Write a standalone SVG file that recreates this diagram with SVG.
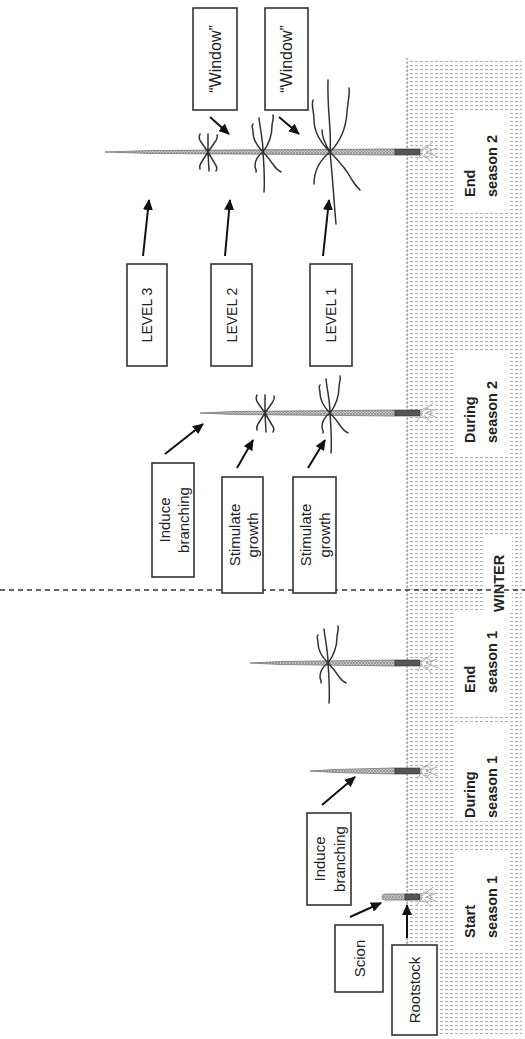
<svg xmlns="http://www.w3.org/2000/svg" width="525" height="1039" viewBox="0 0 525 1039">
<style>
.box{fill:#fff;stroke:#333;stroke-width:1.6}
.t{font-family:"Liberation Sans",Arial,sans-serif;font-size:15px;fill:#222}
.g{font-family:"Liberation Sans",Arial,sans-serif;font-size:14.5px;font-weight:bold;fill:#222}
.arr{stroke:#111;stroke-width:2;fill:none;marker-end:url(#ah)}
.br{stroke:#333;stroke-width:1.5;fill:none;stroke-linecap:round}
.stem{fill:url(#stemtex);stroke:#777;stroke-width:0.8}
.rs{fill:#555;stroke:#333;stroke-width:0.6}
.root{stroke:#aaa;stroke-width:1;fill:none}
</style>
<defs>
<pattern id="hatch" width="5" height="4" patternUnits="userSpaceOnUse">
<rect x="0" y="1" width="3" height="1" fill="#b0b0b0"/>
</pattern>
<pattern id="stemtex" width="3" height="3" patternUnits="userSpaceOnUse">
<rect width="3" height="3" fill="#c8c8c8"/>
<path d="M0,0 L3,3 M3,0 L0,3" stroke="#888" stroke-width="0.7"/>
</pattern>
<marker id="ah" markerUnits="userSpaceOnUse" markerWidth="12" markerHeight="10" refX="10" refY="5" orient="auto">
<path d="M0,0 L11,5 L0,10 z" fill="#111"/>
</marker>
<g id="wS">
<path class="br" d="M0,0 L0,-18 M0,0 L1,19 M0,0 L-7,-10 Q-10,-14 -8,-18 M0,0 L7,-10 Q10,-14 9,-17 M0,0 L-7,11 Q-9,14 -8,17 M0,0 L7,12 Q10,16 8,19"/>
</g>
<g id="wM">
<path class="br" d="M0,0 C-6,-6 -10,-12 -10,-20 C-10,-24 -12,-26 -10,-28 M0,0 C6,-8 9,-18 9,-26 C9,-30 11,-33 10,-37 M0,0 C0,-12 -3,-24 -4,-34 M0,0 C1,14 2,28 1,40 M0,0 C6,6 10,12 12,15 C14,18 16,19 18,20 M0,0 C-6,4 -8,10 -8,14 C-8,17 -6,18 -7,20"/>
</g>
<g id="wL">
<path class="br" d="M0,0 C-8,-8 -16,-18 -16,-32 C-16,-42 -19,-46 -17,-52 M0,0 C2,-20 -3,-40 -2,-72 M0,0 C10,-10 16,-22 17,-40 C18,-52 20,-58 19,-64 M0,0 C-10,8 -16,18 -16,32 M0,0 C3,30 4,50 6,72 M0,0 C10,10 18,20 22,28 C25,33 28,36 30,38 M0,0 C-5,-8 -8,-14 -8,-22"/>
</g>
<g id="root">
<circle class="root" cx="0" cy="0" r="5"/>
<path class="root" d="M-4,-1 L7,-10 M0,0 L11,-4 M0,0 L12,5 M-2,2 L5,10 M-4,1 L-9,8"/>
</g>
</defs>

<g id="ground">
<rect x="407" y="58" width="115" height="977" fill="url(#hatch)"/>
<line x1="407" y1="58" x2="407" y2="1035" stroke="#888" stroke-width="1.2" stroke-dasharray="2,2"/>
<rect x="453" y="110" width="55" height="103" fill="#fff"/>
<rect x="453" y="352" width="55" height="103" fill="#fff"/>
<rect x="484" y="535" width="28" height="77" fill="#fff"/>
<rect x="453" y="612" width="55" height="103" fill="#fff"/>
<rect x="453" y="722" width="55" height="98" fill="#fff"/>
<rect x="453" y="853" width="55" height="97" fill="#fff"/>
<text class="g" transform="translate(470,197) rotate(-90)" dominant-baseline="central">End</text>
<text class="g" transform="translate(492,197) rotate(-90)" dominant-baseline="central">season 2</text>
<text class="g" transform="translate(470,443) rotate(-90)" dominant-baseline="central">During</text>
<text class="g" transform="translate(492,443) rotate(-90)" dominant-baseline="central">season 2</text>
<text class="g" transform="translate(499,612) rotate(-90)" dominant-baseline="central">WINTER</text>
<text class="g" transform="translate(470,693) rotate(-90)" dominant-baseline="central">End</text>
<text class="g" transform="translate(492,693) rotate(-90)" dominant-baseline="central">season 1</text>
<text class="g" transform="translate(470,818) rotate(-90)" dominant-baseline="central">During</text>
<text class="g" transform="translate(492,818) rotate(-90)" dominant-baseline="central">season 1</text>
<text class="g" transform="translate(470,938) rotate(-90)" dominant-baseline="central">Start</text>
<text class="g" transform="translate(492,938) rotate(-90)" dominant-baseline="central">season 1</text>
</g>

<g id="winter-line">
<line x1="0" y1="590" x2="525" y2="590" stroke="#333" stroke-width="1.3" stroke-dasharray="5,4"/>
</g>

<g id="tree-end-s2">
<polygon class="stem" points="105,152 150,150.5 395,149 395,155 150,153.5"/>
<rect class="rs" x="395" y="149" width="25" height="6"/>
<use href="#root" x="426" y="152"/>
<use href="#wS" x="208" y="152"/>
<use href="#wM" x="263" y="152"/>
<use href="#wL" x="330" y="152"/>
</g>
<g id="tree-during-s2">
<polygon class="stem" points="200,413 235,411.5 395,410 395,416 235,414.5"/>
<rect class="rs" x="395" y="410" width="25" height="6"/>
<use href="#root" x="426" y="413"/>
<use href="#wS" x="265" y="413"/>
<use href="#wM" x="330" y="413"/>
</g>
<g id="tree-end-s1">
<polygon class="stem" points="250,663 280,661.5 395,660 395,666 280,664.5"/>
<rect class="rs" x="395" y="660" width="25" height="6"/>
<use href="#root" x="426" y="663"/>
<use href="#wM" x="328" y="663"/>
</g>
<g id="tree-during-s1">
<polygon class="stem" points="310,771 335,769.5 395,768 395,774 335,772.5"/>
<rect class="rs" x="395" y="768" width="25" height="6"/>
<use href="#root" x="426" y="771"/>
</g>
<g id="tree-start-s1">
<rect class="stem" x="382" y="894" width="30" height="6" rx="3"/>
<rect class="rs" x="405" y="894" width="15" height="6"/>
<use href="#root" x="426" y="897"/>
</g>

<g id="window1"><rect class="box" x="193" y="8" width="44" height="102"/><text class="t" style="font-size:16px" transform="translate(215,59) rotate(-90)" text-anchor="middle" dominant-baseline="central">“Window”</text></g>
<g id="window2"><rect class="box" x="265" y="8" width="43" height="102"/><text class="t" style="font-size:16px" transform="translate(286.5,59) rotate(-90)" text-anchor="middle" dominant-baseline="central">“Window”</text></g>
<g id="level3"><rect class="box" x="127" y="264" width="40" height="102"/><text class="t" style="font-size:14px" transform="translate(147,315) rotate(-90)" text-anchor="middle" dominant-baseline="central">LEVEL 3</text></g>
<g id="level2"><rect class="box" x="211" y="264" width="41" height="102"/><text class="t" style="font-size:14px" transform="translate(231.5,315) rotate(-90)" text-anchor="middle" dominant-baseline="central">LEVEL 2</text></g>
<g id="level1"><rect class="box" x="310" y="264" width="42" height="102"/><text class="t" style="font-size:14px" transform="translate(331,315) rotate(-90)" text-anchor="middle" dominant-baseline="central">LEVEL 1</text></g>
<g id="induce2"><rect class="box" x="152" y="463" width="42" height="114"/><text class="t" transform="translate(164,520) rotate(-90)" text-anchor="middle" dominant-baseline="central">Induce</text><text class="t" transform="translate(183,520) rotate(-90)" text-anchor="middle" dominant-baseline="central">branching</text></g>
<g id="stim1"><rect class="box" x="222" y="477" width="41" height="116"/><text class="t" transform="translate(234,535) rotate(-90)" text-anchor="middle" dominant-baseline="central">Stimulate</text><text class="t" transform="translate(252,535) rotate(-90)" text-anchor="middle" dominant-baseline="central">growth</text></g>
<g id="stim2"><rect class="box" x="293" y="477" width="43" height="116"/><text class="t" transform="translate(305,535) rotate(-90)" text-anchor="middle" dominant-baseline="central">Stimulate</text><text class="t" transform="translate(324,535) rotate(-90)" text-anchor="middle" dominant-baseline="central">growth</text></g>
<g id="induce1"><rect class="box" x="307" y="813" width="44" height="92"/><text class="t" transform="translate(319,859) rotate(-90)" text-anchor="middle" dominant-baseline="central">Induce</text><text class="t" transform="translate(339,859) rotate(-90)" text-anchor="middle" dominant-baseline="central">branching</text></g>
<g id="scion"><rect class="box" x="335" y="925" width="48" height="67"/><text class="t" transform="translate(359,958.5) rotate(-90)" text-anchor="middle" dominant-baseline="central">Scion</text></g>
<g id="rootstock"><rect class="box" x="392" y="945" width="45" height="90"/><text class="t" transform="translate(414.5,990) rotate(-90)" text-anchor="middle" dominant-baseline="central">Rootstock</text></g>

<g id="connectors">
<line class="arr" x1="210" y1="117" x2="229" y2="134"/>
<line class="arr" x1="279" y1="117" x2="299" y2="134"/>
<line class="arr" x1="143" y1="256" x2="149" y2="200"/>
<line class="arr" x1="225" y1="256" x2="230" y2="200"/>
<line class="arr" x1="323" y1="256" x2="329" y2="200"/>
<line class="arr" x1="165" y1="454" x2="203" y2="424"/>
<line class="arr" x1="237" y1="468" x2="253" y2="440"/>
<line class="arr" x1="308" y1="468" x2="325" y2="440"/>
<line class="arr" x1="322" y1="805" x2="355" y2="777"/>
<line class="arr" x1="350" y1="917" x2="381" y2="903"/>
<line class="arr" x1="407" y1="938" x2="407" y2="905"/>
</g>
</svg>
